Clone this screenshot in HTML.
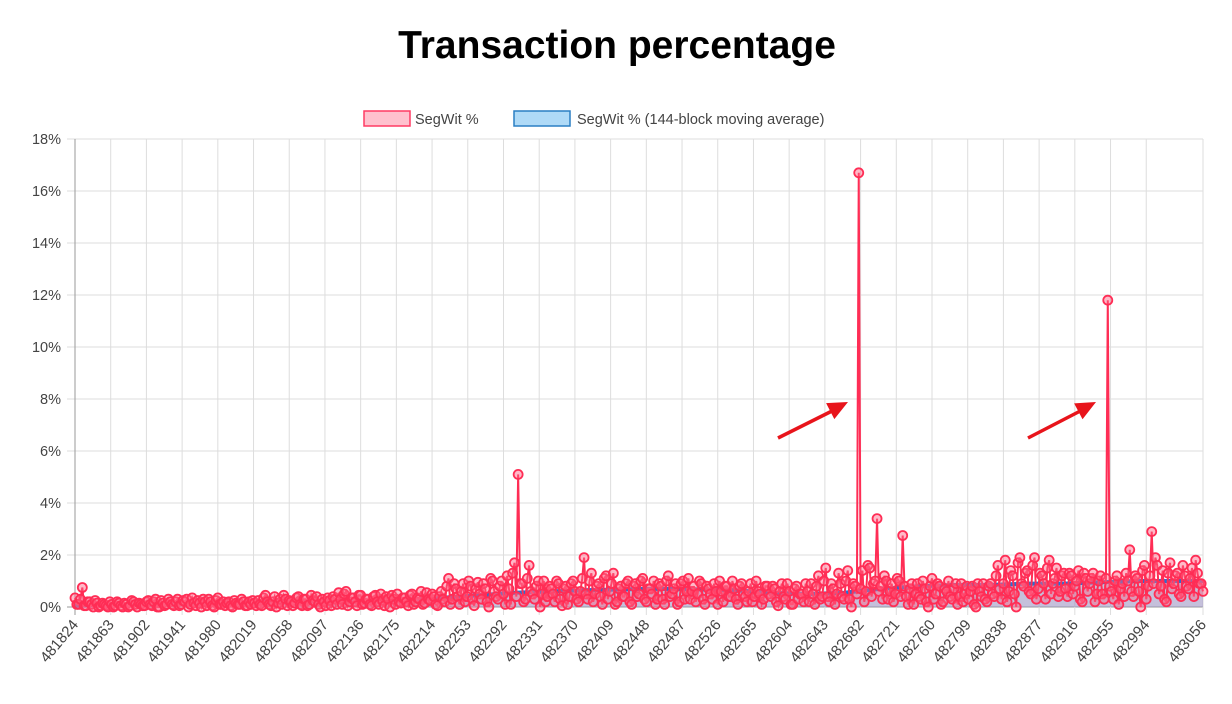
<!DOCTYPE html>
<html><head><meta charset="utf-8">
<style>
html,body{margin:0;padding:0;background:#fff;width:1232px;height:704px;overflow:hidden;font-family:"Liberation Sans",sans-serif;}
</style></head>
<body>
<svg id="chart" width="1232" height="704" xmlns="http://www.w3.org/2000/svg">
<text x="617" y="58" text-anchor="middle" font-family="Liberation Sans, sans-serif" font-weight="bold" font-size="39" fill="#000">Transaction percentage</text>
<g>
<rect x="364" y="111" width="46" height="15" fill="rgba(255,99,132,0.4)" stroke="#ff3b63" stroke-width="1.5"/>
<text x="415" y="124" font-size="14.5" fill="#444">SegWit %</text>
<rect x="514" y="111" width="56" height="15" fill="rgba(54,162,235,0.4)" stroke="#2a7fc4" stroke-width="1.5"/>
<text x="577" y="124" font-size="14.5" fill="#444">SegWit % (144-block moving average)</text>
</g>
<g id="grid"></g>
<g id="ma"></g>
<g id="series"></g>
<g id="axes"></g>
</svg>
<script>
const yTicks = [0,2,4,6,8,10,12,14,16,18];
const xTickBlocks = [481824,481863,481902,481941,481980,482019,482058,482097,482136,482175,482214,482253,482292,482331,482370,482409,482448,482487,482526,482565,482604,482643,482682,482721,482760,482799,482838,482877,482916,482955,482994,483056];
const segwitStart = 481824;
const segwitStep = 4;
const segwitValues = [
0.35,0.1,0.75,0.05,0.2,0.0,0.15,0.05,0.1,0.0,
0.1,0.05,0.15,0.0,0.1,0.05,0.2,0.0,0.1,0.05,
0.25,0.05,0.3,0.0,0.15,0.1,0.2,0.05,0.3,0.1,
0.2,0.0,0.35,0.05,0.15,0.3,0.05,0.2,0.0,0.35,
0.1,0.05,0.2,0.0,0.15,0.1,0.2,0.05,0.1,0.15,
0.25,0.05,0.45,0.1,0.2,0.0,0.3,0.45,0.05,0.2,
0.15,0.4,0.05,0.3,0.1,0.25,0.4,0.0,0.2,0.35,
0.05,0.3,0.55,0.1,0.6,0.2,0.35,0.05,0.45,0.15,
0.3,0.05,0.45,0.1,0.25,0.4,0.0,0.3,0.5,0.15,
0.35,0.05,0.5,0.2,0.3,0.1,0.55,0.25,0.4,0.05,
0.6,0.2,1.1,0.3,0.7,0.1,0.9,0.4,0.8,0.05,
0.95,0.3,0.7,0.0,1.0,0.4,0.8,0.5,1.2,0.1,
1.7,5.1,0.9,0.3,1.6,0.5,0.8,0.0,1.0,0.4,
0.7,0.2,0.9,0.05,0.8,0.4,1.0,0.3,0.6,1.9,
0.3,1.3,0.5,0.9,0.1,1.2,0.6,1.3,0.2,0.8,
0.4,1.0,0.1,0.9,0.5,1.1,0.2,0.7,1.0,0.3,
0.8,0.1,1.2,0.5,0.9,0.2,1.0,0.6,0.3,0.8,
0.5,0.9,0.1,0.7,0.3,0.6,1.0,0.2,0.8,0.4,
0.7,0.1,0.9,0.4,0.6,0.2,1.0,0.5,0.3,0.8,
0.4,0.7,0.05,0.9,0.3,0.6,0.1,0.8,0.5,0.2,
0.6,0.9,0.1,1.2,0.4,1.5,0.2,0.7,0.5,0.9,
0.3,1.4,0.0,0.8,16.7,1.4,0.6,1.5,0.9,3.4,
0.8,1.2,0.3,0.9,0.5,1.0,2.75,0.4,0.7,0.1,
0.9,0.3,0.7,0.0,1.1,0.5,0.8,0.2,0.6,0.4,
0.7,0.1,0.9,0.5,0.3,0.8,0.0,0.6,0.9,0.2,
0.9,0.4,1.6,0.3,1.8,0.6,1.2,0.0,1.9,0.8,
1.4,0.5,1.9,0.7,1.2,0.3,1.8,0.9,1.5,0.6,
1.3,0.4,1.2,0.8,1.4,0.2,1.1,0.9,1.3,0.5,
1.2,0.3,11.8,0.6,1.0,0.1,0.9,1.3,2.2,0.4,
1.1,0.0,1.6,0.8,2.9,1.9,0.5,1.4,0.2,1.7,
0.9,1.3,0.4,1.2,0.7,1.5,1.8,0.9,0.6];
const segwitStart2 = 481826;
const segwitValues2 = [
0.1,0.3,0.05,0.2,0.1,0.25,0.0,0.15,0.05,0.2,
0.0,0.2,0.05,0.15,0.0,0.25,0.1,0.15,0.05,0.2,
0.1,0.2,0.0,0.25,0.05,0.3,0.1,0.2,0.05,0.25,
0.3,0.1,0.15,0.25,0.0,0.2,0.3,0.05,0.25,0.1,
0.2,0.15,0.05,0.25,0.1,0.3,0.05,0.2,0.25,0.05,
0.1,0.35,0.2,0.05,0.4,0.15,0.1,0.3,0.25,0.05,
0.35,0.1,0.3,0.05,0.45,0.2,0.1,0.3,0.05,0.25,
0.4,0.1,0.3,0.5,0.05,0.35,0.2,0.45,0.1,0.3,
0.1,0.4,0.2,0.5,0.05,0.3,0.45,0.1,0.2,0.35,
0.2,0.45,0.1,0.35,0.6,0.15,0.3,0.5,0.1,0.4,
0.3,0.8,0.1,0.9,0.4,0.6,0.2,1.0,0.3,0.7,
0.5,0.9,0.2,1.1,0.6,0.3,1.0,0.1,0.7,1.3,
0.4,0.9,0.2,1.1,0.6,0.3,1.0,0.5,0.2,0.8,
0.5,1.0,0.3,0.7,0.1,0.9,0.6,0.2,1.1,0.5,
1.0,0.2,0.8,0.4,1.1,0.3,0.9,0.1,0.7,0.4,
0.9,0.2,0.8,0.4,1.0,0.3,0.7,0.5,0.1,0.9,
0.3,1.0,0.4,0.7,0.1,0.9,0.3,1.1,0.6,0.2,
1.0,0.3,0.8,0.5,0.9,0.1,0.6,0.8,0.4,1.0,
0.3,0.8,0.5,0.2,0.9,0.4,0.6,0.1,0.8,0.5,
0.8,0.2,0.6,0.4,0.9,0.1,0.7,0.3,0.5,0.9,
0.2,0.5,0.8,0.3,1.0,0.4,0.9,0.1,1.3,0.4,
1.0,0.3,0.9,0.5,0.7,0.2,1.6,0.4,1.0,0.6,
0.3,1.0,0.6,0.2,1.1,0.4,0.8,0.1,0.9,0.5,
0.4,1.0,0.2,0.8,0.3,0.9,0.1,0.7,1.0,0.3,
0.9,0.4,0.2,0.8,0.6,0.1,0.9,0.4,0.3,0.8,
0.5,1.2,0.7,0.9,0.2,1.4,0.5,1.7,0.9,1.3,
0.6,1.6,0.3,1.3,0.9,1.5,0.5,1.1,0.4,1.2,
0.7,1.3,0.5,1.0,0.3,1.3,0.6,1.1,0.2,1.0,
0.5,1.1,0.8,0.3,1.2,0.7,0.4,1.0,0.6,1.2,
0.6,1.4,0.3,1.2,0.9,1.6,0.8,0.3,1.3,0.7,
1.2,0.5,1.6,0.8,1.1,0.4,1.3,0.9];
const maBlocks = [481824,481864,481904,481944,481984,482024,482064,482104,482144,482184,482224,482264,482304,482344,482384,482424,482464,482504,482544,482584,482624,482664,482704,482744,482784,482824,482864,482904,482944,482984,483024,483056];
const maValues = [0.05,0.07,0.1,0.12,0.14,0.17,0.2,0.23,0.25,0.28,0.35,0.45,0.55,0.6,0.65,0.68,0.7,0.68,0.65,0.55,0.5,0.55,0.7,0.8,0.85,0.85,0.9,0.9,0.95,1.0,1.0,1.0];

const NS='http://www.w3.org/2000/svg';
const X0=75,X1=1203,Y0=607,Y1=139;
const bMin=481824,bMax=483056;
function xs(b){return X0+(Math.min(b,bMax)-bMin)*(X1-X0)/(bMax-bMin);}
function ys(v){return Y0-v*(Y0-Y1)/18;}
function mk(tag,attrs,parent){const e=document.createElementNS(NS,tag);for(const k in attrs)e.setAttribute(k,attrs[k]);parent.appendChild(e);return e;}

const grid=document.getElementById('grid'),axes=document.getElementById('axes');
yTicks.forEach(t=>{
  const l=mk('line',{x1:X0-8,x2:X1,y1:ys(t),y2:ys(t),stroke:t===0?'#999':'#ddd','stroke-width':1},grid);
  
  
  const tx=mk('text',{x:X0-14,y:ys(t)+5,'text-anchor':'end','font-size':14.5,fill:'#444'},axes);
  tx.textContent=t+'%';
  
  
});
xTickBlocks.forEach((b,i)=>{
  const x=xs(b);
  const l=mk('line',{x1:x,x2:x,y1:Y1,y2:Y0+8,stroke:i===0?'#999':'#ddd','stroke-width':1},grid);
  
  
  const tx=mk('text',{x:x+4,y:Y0+18,'text-anchor':'end','font-size':15,fill:'#444',transform:'rotate(-50 '+(x+4)+' '+(Y0+18)+')'},axes);
  tx.textContent=b;
  
  
});

// moving average
const ma=document.getElementById('ma');
let d='M'+xs(maBlocks[0])+','+ys(maValues[0]);
maBlocks.forEach((b,i)=>{d+=' L'+xs(b)+','+ys(maValues[i]);});
const area=mk('path',{d:d+' L'+xs(maBlocks[maBlocks.length-1])+','+Y0+' L'+xs(maBlocks[0])+','+Y0+' Z',fill:'rgba(150,140,190,0.55)'},ma);


const mline=mk('path',{d:d,fill:'none',stroke:'#2a6fd0','stroke-width':4},ma);



// segwit series: merge both sampled arrays by block
const pts=[];
segwitValues.forEach((v,i)=>pts.push([segwitStart+i*segwitStep,v]));
segwitValues2.forEach((v,i)=>pts.push([segwitStart2+i*segwitStep,v]));
pts.sort((a,b)=>a[0]-b[0]);
const s=document.getElementById('series');
let sd='';
pts.forEach((p,i)=>{sd+=(i?' L':'M')+xs(p[0])+','+ys(p[1]);});
const sl=mk('path',{d:sd,fill:'none',stroke:'#ff2d55','stroke-width':2},s);


pts.forEach(p=>{
  const c=mk('circle',{cx:xs(p[0]),cy:ys(p[1]),r:4.5,fill:'rgba(255,99,132,0.45)',stroke:'#ff2d55','stroke-width':1.8},s);
  
  
});

// annotation arrows
const arrows=[[778,438,848,402],[1028,438,1096,402]];
arrows.forEach(a=>{
  const g=mk('g',{},s);
  
  
  mk('line',{x1:a[0],y1:a[1],x2:a[2]-8,y2:a[3]+5,stroke:'#e8141b','stroke-width':3.5},g);
  const ang=Math.atan2(a[3]-a[1],a[2]-a[0]);
  const L=20,W=9;
  const bx=a[2]-L*Math.cos(ang),by=a[3]-L*Math.sin(ang);
  const px=-Math.sin(ang)*W,py=Math.cos(ang)*W;
  mk('polygon',{points:a[2]+','+a[3]+' '+(bx+px)+','+(by+py)+' '+(bx-px)+','+(by-py),fill:'#e8141b'},g);
});
</script>
</body></html>
